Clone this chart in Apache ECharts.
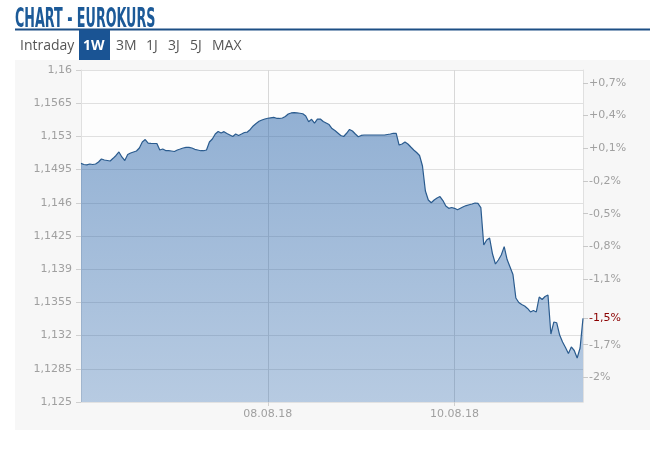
<!DOCTYPE html>
<html>
<head>
<meta charset="utf-8">
<script src="https://cdn.jsdelivr.net/npm/echarts@6/dist/echarts.min.js"></script>
<style>
  html, body { margin: 0; padding: 0; background: #fff; }
  #chart { width: 665px; height: 450px; }
</style>
</head>
<body>
<div id="chart"></div>
<script>
// Eurokurs, 1 Woche (ein Punkt ~ 22,5 min, 64 Punkte pro Tag)
const kurs = [
  1.15016, 1.15004, 1.15000, 1.15009, 1.15004, 1.15009, 1.15030, 1.15062, 1.15051, 1.15046,
  1.15041, 1.15069, 1.15099, 1.15136, 1.15083, 1.15046, 1.15109, 1.15125, 1.15136, 1.15146,
  1.15178, 1.15241, 1.15267, 1.15230, 1.15227, 1.15225, 1.15225, 1.15157, 1.15167, 1.15151,
  1.15151, 1.15146, 1.15141, 1.15157, 1.15167, 1.15178, 1.15185, 1.15185, 1.15178, 1.15164,
  1.15157, 1.15149, 1.15149, 1.15157, 1.15241, 1.15273, 1.15325, 1.15352, 1.15336, 1.15350,
  1.15331, 1.15315, 1.15299, 1.15325, 1.15310, 1.15325, 1.15341, 1.15346, 1.15373, 1.15410,
  1.15436, 1.15459, 1.15473, 1.15483, 1.15491, 1.15496, 1.15501, 1.15491, 1.15489, 1.15494,
  1.15510, 1.15536, 1.15547, 1.15550, 1.15547, 1.15544, 1.15539, 1.15515, 1.15455, 1.15480,
  1.15441, 1.15483, 1.15483, 1.15457, 1.15441, 1.15425, 1.15383, 1.15362, 1.15336, 1.15310,
  1.15299, 1.15333, 1.15373, 1.15357, 1.15325, 1.15297, 1.15310, 1.15315, 1.15315, 1.15315,
  1.15315, 1.15315, 1.15315, 1.15315, 1.15315, 1.15320, 1.15325, 1.15333, 1.15331, 1.15209,
  1.15220, 1.15241, 1.15220, 1.15188, 1.15157, 1.15130, 1.15099, 1.14988, 1.14724, 1.14630,
  1.14600, 1.14630, 1.14651, 1.14666, 1.14624, 1.14566, 1.14542, 1.14550, 1.14542, 1.14526,
  1.14542, 1.14558, 1.14571, 1.14579, 1.14587, 1.14598, 1.14593, 1.14550, 1.14155, 1.14208,
  1.14229, 1.14060, 1.13955, 1.13997, 1.14050, 1.14138, 1.14002, 1.13923, 1.13844, 1.13596,
  1.13549, 1.13528, 1.13512, 1.13486, 1.13449, 1.13465, 1.13449, 1.13607, 1.13581, 1.13612,
  1.13628, 1.13217, 1.13343, 1.13335, 1.13206, 1.13133, 1.13075, 1.13011, 1.13080, 1.13043,
  1.12964, 1.13069, 1.13382
];

// Datumsachse: Index des Tagesbeginns
const dateIdx = [64, 128];
const dateLabels = ['08.08.18', '10.08.18'];

// Kursachse links
const kursTicks = [1.125, 1.1285, 1.132, 1.1355, 1.139, 1.1425, 1.146, 1.1495, 1.153, 1.1565, 1.16];
const kursMin = 1.125;
const kursMax = 1.16;

// Prozentachse rechts (Bezug: Schlusskurs Vorwoche)
const basis = 1.1506;
const pctTicks = [0.7, 0.4, 0.1, -0.2, -0.5, -0.8, -1.1, -1.7, -2.0];

const tabs = ['Intraday', '1W', '3M', '1J', '3J', '5J', 'MAX'];
const tabX = [20, 83, 116, 146, 168, 190, 212];
const activeTab = '1W';

const lastPct = (kurs[kurs.length - 1] / basis - 1) * 100;
const pctMin = (kursMin / basis - 1) * 100;
const pctMax = (kursMax / basis - 1) * 100;

function fmtKurs(v) {
  return parseFloat(v.toFixed(4)).toString().replace('.', ',');
}
function fmtPct(v) {
  let s = Math.abs(v - Math.round(v)) < 1e-6 ? Math.round(v).toString() : v.toFixed(1);
  s = s.replace('.', ',');
  if (v > 0) s = '+' + s;
  return s + '%';
}

const myChart = echarts.init(document.getElementById('chart'));

const labelFont = {
  color: '#a0a0a0',
  fontSize: 11,
  fontFamily: 'DejaVu Sans'
};

const option = {
  backgroundColor: '#fff',
  animation: false,
  graphic: [
    {
      type: 'rect', z: -100,
      shape: { x: 15, y: 60, width: 635, height: 370 },
      style: { fill: '#f7f7f7' }
    },
    {
      // schmale Titelschrift nachgebildet
      type: 'text', x: 15, y: 6,
      scaleX: 0.53, scaleY: 1.14,
      style: {
        text: 'CHART - EUROKURS',
        fill: '#1c5a98',
        font: 'bold 24px "DejaVu Sans", sans-serif',
        verticalAlign: 'top'
      }
    },
    {
      type: 'line',
      shape: { x1: 15, y1: 29.5, x2: 650, y2: 29.5 },
      style: { stroke: '#1d4f85', lineWidth: 2 }
    },
    {
      type: 'rect',
      shape: { x: 79, y: 30, width: 31, height: 30 },
      style: { fill: '#1a5494' }
    }
  ].concat(tabs.map((t, i) => ({
    type: 'text',
    x: tabX[i], y: 46,
    style: {
      text: t,
      fill: t === activeTab ? '#fff' : '#555',
      font: (t === activeTab ? 'bold ' : '') + '14px "Open Sans", sans-serif',
      verticalAlign: 'middle'
    }
  }))),
  grid: {
    left: 81, right: 82, top: 70, bottom: 48,
    show: true,
    backgroundColor: '#fdfdfd',
    borderWidth: 0
  },
  xAxis: {
    type: 'category',
    boundaryGap: false,
    data: kurs.map((_, i) => i),
    axisLine: { onZero: false, lineStyle: { color: '#e2e2e2' } },
    axisTick: {
      interval: (i) => dateIdx.includes(i),
      length: 4,
      lineStyle: { color: '#d0d0d0' }
    },
    axisLabel: Object.assign({}, labelFont, {
      interval: (i) => dateIdx.includes(i),
      margin: 7,
      formatter: (v) => {
        const k = dateIdx.indexOf(Number(v));
        return k >= 0 ? dateLabels[k] : '';
      }
    }),
    splitLine: {
      show: true,
      interval: (i) => dateIdx.includes(i),
      lineStyle: { color: '#d8d8d8' }
    }
  },
  yAxis: [
    {
      type: 'value',
      min: kursMin,
      max: kursMax,
      position: 'left',
      axisLine: { show: true, onZero: false, lineStyle: { color: '#e0e0e0' } },
      axisTick: { show: true, length: 5, customValues: kursTicks, lineStyle: { color: '#d0d0d0' } },
      axisLabel: Object.assign({}, labelFont, {
        customValues: kursTicks,
        margin: 9,
        formatter: fmtKurs
      }),
      splitLine: { show: true, lineStyle: { color: '#e0e0e0' } }
    },
    {
      type: 'value',
      min: pctMin,
      max: pctMax,
      position: 'right',
      axisLine: { show: true, onZero: false, lineStyle: { color: '#e0e0e0' } },
      axisTick: { show: true, length: 5, customValues: pctTicks.concat([lastPct]), lineStyle: { color: '#c8c8c8' } },
      axisLabel: Object.assign({}, labelFont, {
        customValues: pctTicks.concat([lastPct]),
        margin: 6,
        formatter: (v) => Math.abs(v - lastPct) < 1e-9 ? '{cur|' + fmtPct(v) + '}' : fmtPct(v),
        rich: { cur: { color: '#8b0000', fontSize: 11, fontFamily: 'DejaVu Sans' } }
      }),
      splitLine: { show: false }
    }
  ],
  series: [
    {
      name: 'Eurokurs',
      type: 'line',
      data: kurs,
      showSymbol: false,
      lineStyle: { color: '#2a5b8e', width: 1.2 },
      areaStyle: {
        origin: 'start',
        opacity: 1,
        color: new echarts.graphic.LinearGradient(0, 0, 0, 1, [
          { offset: 0, color: 'rgba(40,100,170,0.50)' },
          { offset: 1, color: 'rgba(40,100,170,0.33)' }
        ])
      }
    }
  ]
};

myChart.setOption(option);
</script>
</body>
</html>
